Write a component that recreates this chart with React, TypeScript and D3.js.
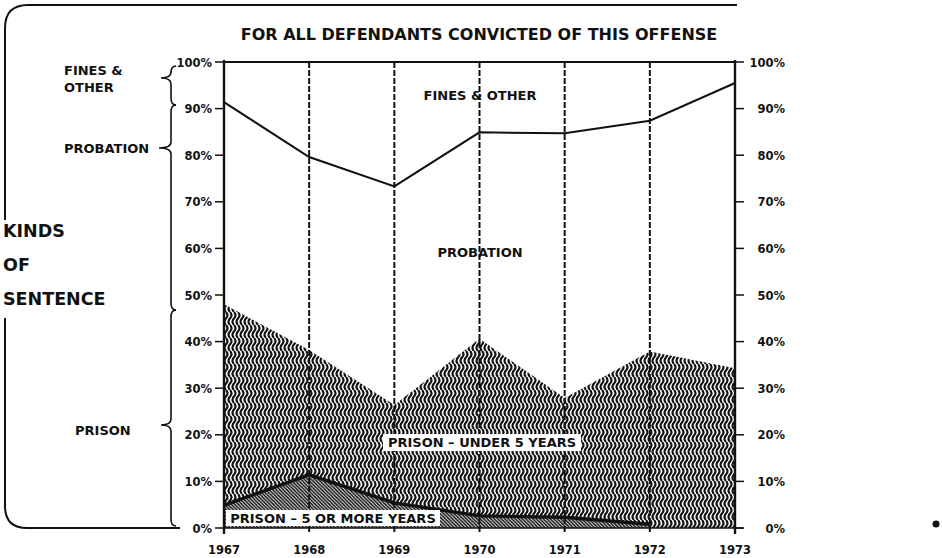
import React from 'react'
import * as d3 from 'd3'

const years = [1967, 1968, 1969, 1970, 1971, 1972, 1973]
// top of probation band (everything above is fines & other)
const probationTop = [91.4, 79.6, 73.3, 84.9, 84.7, 87.4, 95.5]
// top of prison band (under 5 years + 5 or more)
const prisonTotal = [48.0, 38.2, 26.4, 40.6, 27.9, 37.9, 34.3]
// prison 5 or more years (series ends in 1972)
const prison5Years = [1967, 1968, 1969, 1970, 1971, 1972]
const prison5 = [4.9, 11.4, 5.4, 2.6, 2.3, 0.8]
const tickValues = [0, 10, 20, 30, 40, 50, 60, 70, 80, 90, 100]

const font = '"DejaVu Sans", "Liberation Sans", Arial, sans-serif'

function brace(x: number, y1: number, ym: number, y2: number, tip: number) {
  return `M${x + 5},${y1} Q${x},${y1} ${x},${y1 + 7} V${ym - 6} Q${x},${ym} ${x - tip},${ym} Q${x},${ym} ${x},${ym + 6} V${y2 - 7} Q${x},${y2} ${x + 5},${y2}`
}

export default function App() {
  const width = 942, height = 558
  const x = d3.scaleLinear().domain([1967, 1973]).range([224, 735])
  const y = d3.scaleLinear().domain([0, 100]).range([528, 62])

  const prisonArea = d3.area<number>()
    .x((d, i) => x(years[i]))
    .y0(y(0))
    .y1(d => y(d))
  const longArea = d3.area<number>()
    .x((d, i) => x(prison5Years[i]))
    .y0(y(0))
    .y1(d => y(d))
  const longLine = d3.line<number>()
    .x((d, i) => x(prison5Years[i]))
    .y(d => y(d))
  const finesLine = d3.line<number>()
    .x((d, i) => x(years[i]))
    .y(d => y(d))

  const wave = (o: number) => `M${o},0 Q${o + 3},3.25 ${o},6.5 Q${o - 3},9.75 ${o},13`

  return (
    <svg width={width} height={height} style={{ position: 'absolute', left: 0, top: 0, background: '#fff' }} fontFamily={font}>
      <defs>
        <pattern id="wave" width="4" height="13" patternUnits="userSpaceOnUse">
          <rect width="4" height="13" fill="#fff" />
          <path d={wave(2) + wave(-2) + wave(6)} fill="none" stroke="#111" strokeWidth="2.1" />
        </pattern>
        <pattern id="hatch" width="3.5" height="3.5" patternUnits="userSpaceOnUse">
          <rect width="3.5" height="3.5" fill="#fff" />
          <path d="M-1,-1 L4.5,4.5 M-1,2.5 L1,4.5 M2.5,-1 L4.5,1" stroke="#111" strokeWidth="1.6" />
        </pattern>
      </defs>

      {/* frame bracket */}
      <path d="M5,220 V28 Q5,5 28,5 H737" fill="none" stroke="#111" strokeWidth="2" />
      <path d="M5,318 V506 Q5,528 27,528 H180" fill="none" stroke="#111" strokeWidth="2" />

      <text x={479} y={40} textAnchor="middle" fontSize={16} fontWeight="bold" fill="#111">FOR ALL DEFENDANTS CONVICTED OF THIS OFFENSE</text>

      {/* side labels */}
      <g fontSize={13} fontWeight="bold" fill="#111">
        <text x={64} y={75}>FINES &amp;</text>
        <text x={64} y={92}>OTHER</text>
        <text x={64} y={153}>PROBATION</text>
        <text x={75} y={435}>PRISON</text>
      </g>
      <g fontSize={17.5} fill="#111" fontWeight="bold">
        <text x={3} y={237}>KINDS</text>
        <text x={3} y={271}>OF</text>
        <text x={3} y={305}>SENTENCE</text>
      </g>
      <g fill="none" stroke="#111" strokeWidth="1.6">
        <path d={brace(171, 66, 78, 105, 10)} />
        <path d={brace(171, 105, 148, 310, 12)} />
        <path d={brace(171, 310, 425, 526, 10)} />
      </g>

      {/* areas */}
      <path d={prisonArea(prisonTotal) || ''} fill="url(#wave)" />
      <path d={longArea(prison5) || ''} fill="url(#hatch)" />
      <path d={finesLine(probationTop) || ''} fill="none" stroke="#111" strokeWidth="2" />
      <path d={longLine(prison5) || ''} fill="none" stroke="#111" strokeWidth="3.4" />

      {/* grid lines */}
      {years.slice(1, -1).map(yr => (
        <line key={yr} x1={x(yr)} x2={x(yr)} y1={y(100)} y2={y(0) + 6} stroke="#111" strokeWidth="2" strokeDasharray="6,2" />
      ))}
      <line x1={x(1967)} x2={x(1973)} y1={y(100)} y2={y(100)} stroke="#111" strokeWidth="2" />
      <line x1={x(1967)} x2={x(1973) + 8} y1={y(0)} y2={y(0)} stroke="#111" strokeWidth="1.5" />
      <line x1={x(1967)} x2={x(1967)} y1={y(100) - 2} y2={y(0) + 6} stroke="#111" strokeWidth="2.4" />
      <line x1={x(1973)} x2={x(1973)} y1={y(100) - 2} y2={y(0) + 6} stroke="#111" strokeWidth="2.4" />

      {/* axes */}
      <g fontSize={11.5} fontWeight="bold" fill="#111">
        {tickValues.map(t => (
          <g key={t}>
            <line x1={x(1967) - 9} x2={x(1967)} y1={y(t)} y2={y(t)} stroke="#111" strokeWidth="1.5" />
            <text x={212} y={y(t) + 4.5} textAnchor="end">{t}%</text>
            <line x1={x(1973)} x2={x(1973) + 9} y1={y(t)} y2={y(t)} stroke="#111" strokeWidth="1.5" />
            <text x={785} y={y(t) + 4.5} textAnchor="end">{t}%</text>
          </g>
        ))}
        {years.map(yr => (
          <text key={yr} x={x(yr)} y={554} textAnchor="middle">{yr}</text>
        ))}
      </g>

      {/* inner labels */}
      <g fontSize={13} fontWeight="bold" fill="#111">
        <text x={480} y={100} textAnchor="middle">FINES &amp; OTHER</text>
        <text x={480} y={257} textAnchor="middle">PROBATION</text>
        <rect x={383} y={434} width={198} height={17} fill="#fff" />
        <text x={482} y={447} textAnchor="middle">PRISON – UNDER 5 YEARS</text>
        <rect x={226} y={510} width={214} height={16} fill="#fff" />
        <text x={333} y={523} textAnchor="middle">PRISON – 5 OR MORE YEARS</text>
      </g>

      <circle cx={936} cy={524} r={3.5} fill="#111" />
    </svg>
  )
}
